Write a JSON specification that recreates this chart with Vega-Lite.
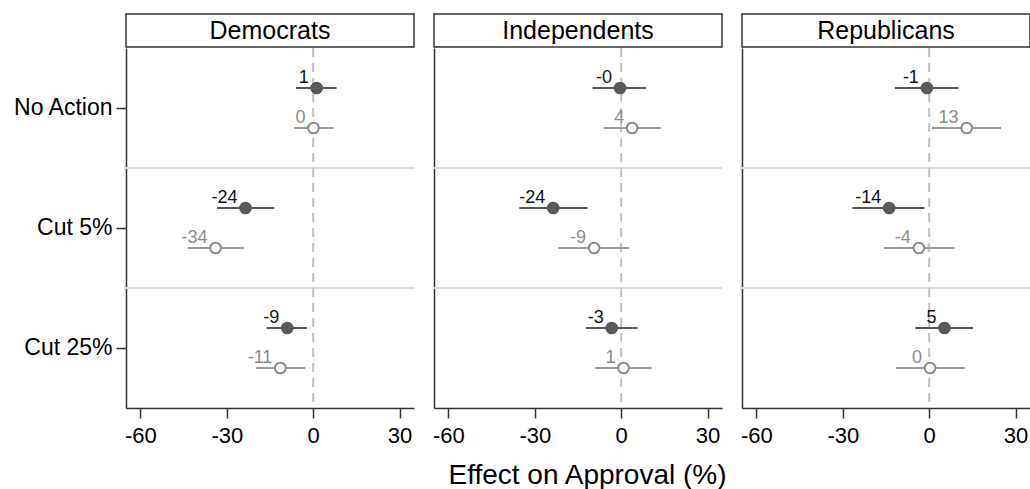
{
  "$schema": "https://vega.github.io/schema/vega-lite/v6.json",
  "padding": {"left": 12, "top": 13, "right": 0, "bottom": 0},
  "background": "white",
  "config": {
    "font": "Liberation Sans",
    "view": {"stroke": null},
    "axis": {"domainColor": "#333333", "tickColor": "#333333", "domainWidth": 1.5, "tickWidth": 1.5, "labelColor": "#000000", "titleColor": "#000000", "labelFont": "Liberation Sans", "titleFont": "Liberation Sans", "grid": false},
    "axisX": {"labelFontSize": 22, "tickSize": 10, "labelPadding": 7, "titleFontSize": 28, "titleFontWeight": "normal", "titlePadding": 15, "labelFlush": false, "titleX": 153, "titleAlign": "center"},
    "axisY": {"labelFontSize": 23, "tickSize": 10, "labelPadding": 4}
  },
  "datasets": {
    "est": [
      {"party": "Democrats", "action": "No Action", "series": "A", "est": 1.2, "lo": -6.0, "hi": 8.1, "lab": "1"},
      {"party": "Democrats", "action": "No Action", "series": "B", "est": 0.1, "lo": -6.5, "hi": 7.1, "lab": "0"},
      {"party": "Democrats", "action": "Cut 5%", "series": "A", "est": -23.5, "lo": -33.4, "hi": -13.5, "lab": "-24"},
      {"party": "Democrats", "action": "Cut 5%", "series": "B", "est": -33.9, "lo": -43.6, "hi": -24.1, "lab": "-34"},
      {"party": "Democrats", "action": "Cut 25%", "series": "A", "est": -9.0, "lo": -16.2, "hi": -2.2, "lab": "-9"},
      {"party": "Democrats", "action": "Cut 25%", "series": "B", "est": -11.4, "lo": -19.9, "hi": -2.7, "lab": "-11"},
      {"party": "Independents", "action": "No Action", "series": "A", "est": -0.4, "lo": -9.9, "hi": 8.7, "lab": "-0"},
      {"party": "Independents", "action": "No Action", "series": "B", "est": 3.8, "lo": -6.1, "hi": 13.7, "lab": "4"},
      {"party": "Independents", "action": "Cut 5%", "series": "A", "est": -23.6, "lo": -35.4, "hi": -11.7, "lab": "-24"},
      {"party": "Independents", "action": "Cut 5%", "series": "B", "est": -9.4, "lo": -21.8, "hi": 2.7, "lab": "-9"},
      {"party": "Independents", "action": "Cut 25%", "series": "A", "est": -3.3, "lo": -12.2, "hi": 5.7, "lab": "-3"},
      {"party": "Independents", "action": "Cut 25%", "series": "B", "est": 0.8, "lo": -9.0, "hi": 10.5, "lab": "1"},
      {"party": "Republicans", "action": "No Action", "series": "A", "est": -0.8, "lo": -11.9, "hi": 10.2, "lab": "-1"},
      {"party": "Republicans", "action": "No Action", "series": "B", "est": 13.0, "lo": 1.0, "hi": 25.0, "lab": "13"},
      {"party": "Republicans", "action": "Cut 5%", "series": "A", "est": -13.9, "lo": -26.7, "hi": -1.6, "lab": "-14"},
      {"party": "Republicans", "action": "Cut 5%", "series": "B", "est": -3.6, "lo": -15.7, "hi": 8.9, "lab": "-4"},
      {"party": "Republicans", "action": "Cut 25%", "series": "A", "est": 5.3, "lo": -4.8, "hi": 15.2, "lab": "5"},
      {"party": "Republicans", "action": "Cut 25%", "series": "B", "est": 0.3, "lo": -11.6, "hi": 12.3, "lab": "0"}
    ]
  },
  "columns": 3,
  "bounds": "flush",
  "spacing": {"row": 1, "column": 20},
  "concat": [
    {"width": 288, "height": 33, "view": {"stroke": "#333333", "strokeWidth": 1.5, "fill": "white"},
     "data": {"values": [{"party": "Democrats"}]},
     "mark": {"type": "text", "fontSize": 25, "color": "#000000", "baseline": "middle"},
     "encoding": {"text": {"field": "party", "type": "nominal"}}},
    {"width": 288, "height": 33, "view": {"stroke": "#333333", "strokeWidth": 1.5, "fill": "white"},
     "data": {"values": [{"party": "Independents"}]},
     "mark": {"type": "text", "fontSize": 25, "color": "#000000", "baseline": "middle"},
     "encoding": {"text": {"field": "party", "type": "nominal"}}},
    {"width": 288, "height": 33, "view": {"stroke": "#333333", "strokeWidth": 1.5, "fill": "white"},
     "data": {"values": [{"party": "Republicans"}]},
     "mark": {"type": "text", "fontSize": 25, "color": "#000000", "baseline": "middle"},
     "encoding": {"text": {"field": "party", "type": "nominal"}}},
    {
      "width": 288, "height": 360,
      "data": {"name": "est"},
      "transform": [{"filter": "datum.party === 'Democrats'"}],
      "layer": [
        {"transform": [{"filter": "datum.series === 'A' && datum.action !== 'No Action'"}],
         "mark": {"type": "rule", "color": "#dcdcdc", "strokeWidth": 2},
         "encoding": {"y": {"field": "action", "type": "nominal", "sort": ["No Action", "Cut 5%", "Cut 25%"], "bandPosition": 0, "scale": {"paddingInner": 0, "paddingOuter": 0}, "title": null}}},
        {"transform": [{"filter": "datum.series === 'A' && datum.action === 'No Action'"}],
         "mark": {"type": "rule", "color": "#c0c0c0", "strokeWidth": 2, "strokeDash": [9, 6]},
         "encoding": {"x": {"datum": 0, "type": "quantitative", "title": null, "axis": {"values": [-60, -30, 0, 30], "labelExpr": "datum.value + ''"}}}},
        {"mark": {"type": "rule", "strokeWidth": 2},
         "encoding": {
           "x": {"field": "lo", "type": "quantitative", "scale": {"domain": [-65, 35], "nice": false, "zero": false}, "title": null, "axis": {"values": [-60, -30, 0, 30], "labelExpr": "datum.value + ''"}},
           "x2": {"field": "hi"},
           "y": {"field": "action", "type": "nominal", "sort": ["No Action", "Cut 5%", "Cut 25%"], "scale": {"paddingInner": 0, "paddingOuter": 0}, "title": null},
           "yOffset": {"field": "series", "type": "nominal", "scale": {"paddingInner": 0, "paddingOuter": 0.5}},
           "color": {"condition": {"test": "datum.series === 'A'", "value": "#555555"}, "value": "#9a9a9a"}}},
        {"mark": {"type": "point", "shape": "circle", "filled": false, "size": 115, "strokeWidth": 2, "opacity": 1},
         "encoding": {
           "x": {"field": "est", "type": "quantitative", "title": null, "axis": {"values": [-60, -30, 0, 30], "labelExpr": "datum.value + ''"}},
           "y": {"field": "action", "type": "nominal", "sort": ["No Action", "Cut 5%", "Cut 25%"], "title": null},
           "yOffset": {"field": "series", "type": "nominal"},
           "fill": {"condition": {"test": "datum.series === 'A'", "value": "#595959"}, "value": "#ffffff"},
           "stroke": {"condition": {"test": "datum.series === 'A'", "value": "#595959"}, "value": "#8c8c8c"}}},
        {"mark": {"type": "text", "fontSize": 18, "align": "right", "baseline": "alphabetic", "dx": -8, "dy": -5},
         "encoding": {
           "x": {"field": "est", "type": "quantitative", "title": null, "axis": {"values": [-60, -30, 0, 30], "labelExpr": "datum.value + ''"}},
           "y": {"field": "action", "type": "nominal", "sort": ["No Action", "Cut 5%", "Cut 25%"], "title": null},
           "yOffset": {"field": "series", "type": "nominal"},
           "text": {"field": "lab", "type": "nominal"},
           "color": {"condition": {"test": "datum.series === 'A'", "value": "#111111"}, "value": "#8c8c8c"}}}
      ]
    },
    {
      "width": 288, "height": 360,
      "data": {"name": "est"},
      "transform": [{"filter": "datum.party === 'Independents'"}],
      "layer": [
        {"transform": [{"filter": "datum.series === 'A' && datum.action !== 'No Action'"}],
         "mark": {"type": "rule", "color": "#dcdcdc", "strokeWidth": 2},
         "encoding": {"y": {"field": "action", "type": "nominal", "sort": ["No Action", "Cut 5%", "Cut 25%"], "bandPosition": 0, "scale": {"paddingInner": 0, "paddingOuter": 0}, "title": null, "axis": {"labels": false, "ticks": false}}}},
        {"transform": [{"filter": "datum.series === 'A' && datum.action === 'No Action'"}],
         "mark": {"type": "rule", "color": "#c0c0c0", "strokeWidth": 2, "strokeDash": [9, 6]},
         "encoding": {"x": {"datum": 0, "type": "quantitative", "title": "Effect on Approval (%)", "axis": {"values": [-60, -30, 0, 30], "labelExpr": "datum.value + ''"}}}},
        {"mark": {"type": "rule", "strokeWidth": 2},
         "encoding": {
           "x": {"field": "lo", "type": "quantitative", "scale": {"domain": [-65, 35], "nice": false, "zero": false}, "title": "Effect on Approval (%)", "axis": {"values": [-60, -30, 0, 30], "labelExpr": "datum.value + ''"}},
           "x2": {"field": "hi"},
           "y": {"field": "action", "type": "nominal", "sort": ["No Action", "Cut 5%", "Cut 25%"], "scale": {"paddingInner": 0, "paddingOuter": 0}, "title": null, "axis": {"labels": false, "ticks": false}},
           "yOffset": {"field": "series", "type": "nominal", "scale": {"paddingInner": 0, "paddingOuter": 0.5}},
           "color": {"condition": {"test": "datum.series === 'A'", "value": "#555555"}, "value": "#9a9a9a"}}},
        {"mark": {"type": "point", "shape": "circle", "filled": false, "size": 115, "strokeWidth": 2, "opacity": 1},
         "encoding": {
           "x": {"field": "est", "type": "quantitative", "title": "Effect on Approval (%)", "axis": {"values": [-60, -30, 0, 30], "labelExpr": "datum.value + ''"}},
           "y": {"field": "action", "type": "nominal", "sort": ["No Action", "Cut 5%", "Cut 25%"], "title": null, "axis": {"labels": false, "ticks": false}},
           "yOffset": {"field": "series", "type": "nominal"},
           "fill": {"condition": {"test": "datum.series === 'A'", "value": "#595959"}, "value": "#ffffff"},
           "stroke": {"condition": {"test": "datum.series === 'A'", "value": "#595959"}, "value": "#8c8c8c"}}},
        {"mark": {"type": "text", "fontSize": 18, "align": "right", "baseline": "alphabetic", "dx": -8, "dy": -5},
         "encoding": {
           "x": {"field": "est", "type": "quantitative", "title": "Effect on Approval (%)", "axis": {"values": [-60, -30, 0, 30], "labelExpr": "datum.value + ''"}},
           "y": {"field": "action", "type": "nominal", "sort": ["No Action", "Cut 5%", "Cut 25%"], "title": null, "axis": {"labels": false, "ticks": false}},
           "yOffset": {"field": "series", "type": "nominal"},
           "text": {"field": "lab", "type": "nominal"},
           "color": {"condition": {"test": "datum.series === 'A'", "value": "#111111"}, "value": "#8c8c8c"}}}
      ]
    },
    {
      "width": 288, "height": 360,
      "data": {"name": "est"},
      "transform": [{"filter": "datum.party === 'Republicans'"}],
      "layer": [
        {"transform": [{"filter": "datum.series === 'A' && datum.action !== 'No Action'"}],
         "mark": {"type": "rule", "color": "#dcdcdc", "strokeWidth": 2},
         "encoding": {"y": {"field": "action", "type": "nominal", "sort": ["No Action", "Cut 5%", "Cut 25%"], "bandPosition": 0, "scale": {"paddingInner": 0, "paddingOuter": 0}, "title": null, "axis": {"labels": false, "ticks": false}}}},
        {"transform": [{"filter": "datum.series === 'A' && datum.action === 'No Action'"}],
         "mark": {"type": "rule", "color": "#c0c0c0", "strokeWidth": 2, "strokeDash": [9, 6]},
         "encoding": {"x": {"datum": 0, "type": "quantitative", "title": null, "axis": {"values": [-60, -30, 0, 30], "labelExpr": "datum.value + ''"}}}},
        {"mark": {"type": "rule", "strokeWidth": 2},
         "encoding": {
           "x": {"field": "lo", "type": "quantitative", "scale": {"domain": [-65, 35], "nice": false, "zero": false}, "title": null, "axis": {"values": [-60, -30, 0, 30], "labelExpr": "datum.value + ''"}},
           "x2": {"field": "hi"},
           "y": {"field": "action", "type": "nominal", "sort": ["No Action", "Cut 5%", "Cut 25%"], "scale": {"paddingInner": 0, "paddingOuter": 0}, "title": null, "axis": {"labels": false, "ticks": false}},
           "yOffset": {"field": "series", "type": "nominal", "scale": {"paddingInner": 0, "paddingOuter": 0.5}},
           "color": {"condition": {"test": "datum.series === 'A'", "value": "#555555"}, "value": "#9a9a9a"}}},
        {"mark": {"type": "point", "shape": "circle", "filled": false, "size": 115, "strokeWidth": 2, "opacity": 1},
         "encoding": {
           "x": {"field": "est", "type": "quantitative", "title": null, "axis": {"values": [-60, -30, 0, 30], "labelExpr": "datum.value + ''"}},
           "y": {"field": "action", "type": "nominal", "sort": ["No Action", "Cut 5%", "Cut 25%"], "title": null, "axis": {"labels": false, "ticks": false}},
           "yOffset": {"field": "series", "type": "nominal"},
           "fill": {"condition": {"test": "datum.series === 'A'", "value": "#595959"}, "value": "#ffffff"},
           "stroke": {"condition": {"test": "datum.series === 'A'", "value": "#595959"}, "value": "#8c8c8c"}}},
        {"mark": {"type": "text", "fontSize": 18, "align": "right", "baseline": "alphabetic", "dx": -8, "dy": -5},
         "encoding": {
           "x": {"field": "est", "type": "quantitative", "title": null, "axis": {"values": [-60, -30, 0, 30], "labelExpr": "datum.value + ''"}},
           "y": {"field": "action", "type": "nominal", "sort": ["No Action", "Cut 5%", "Cut 25%"], "title": null, "axis": {"labels": false, "ticks": false}},
           "yOffset": {"field": "series", "type": "nominal"},
           "text": {"field": "lab", "type": "nominal"},
           "color": {"condition": {"test": "datum.series === 'A'", "value": "#111111"}, "value": "#8c8c8c"}}}
      ]
    }
  ]
}
